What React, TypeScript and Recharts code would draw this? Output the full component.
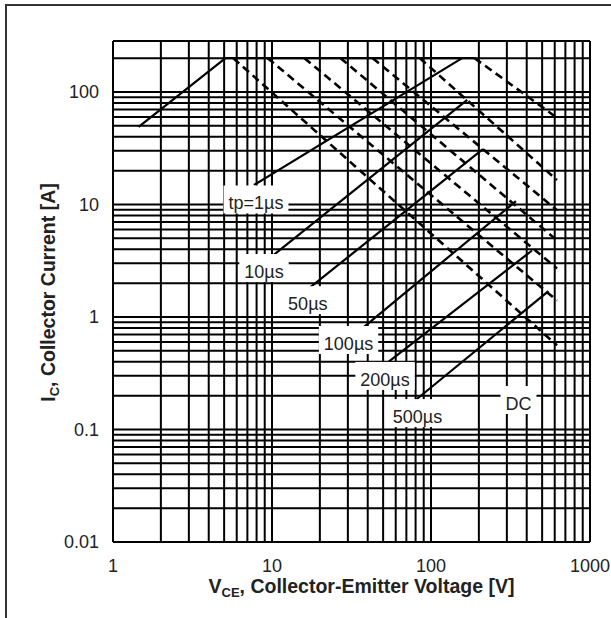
import React from 'react'
import { LineChart, Line, XAxis, YAxis, CartesianGrid, ReferenceLine, ReferenceDot } from 'recharts'

// log grid, every integer multiple inside each decade
const xGrid = [1, 2, 3, 4, 5, 6, 7, 8, 9, 10, 20, 30, 40, 50, 60, 70, 80, 90, 100, 200, 300, 400, 500, 600, 700, 800, 900, 1000]
const yGrid = [
  0.01, 0.02, 0.03, 0.04, 0.05, 0.06, 0.07, 0.08, 0.09,
  0.1, 0.2, 0.3, 0.4, 0.5, 0.6, 0.7, 0.8, 0.9,
  1, 2, 3, 4, 5, 6, 7, 8, 9,
  10, 20, 30, 40, 50, 60, 70, 80, 90,
  100, 200,
]
const xLabels = [1, 10, 100, 1000]
const yLabels = [0.01, 0.1, 1, 10, 100]
const Y_MAX = 284

// VCE(sat) limit + Ic pulse limit
const vceSat = [{ x: 1.45, y: 49 }, { x: 5.1, y: 200 }, { x: 188, y: 200 }]

// power limit lines (dashed)
const dc = [{ x: 5.7, y: 200 }, { x: 620, y: 0.56 }]
const p500 = [{ x: 9.4, y: 200 }, { x: 620, y: 1.4 }]
const p200 = [{ x: 16, y: 200 }, { x: 620, y: 2.7 }]
const p100 = [{ x: 27, y: 200 }, { x: 620, y: 4.8 }]
const p50 = [{ x: 43, y: 200 }, { x: 620, y: 8.9 }]
const p10 = [{ x: 85, y: 200 }, { x: 620, y: 16.5 }]
const p1 = [{ x: 188, y: 200 }, { x: 620, y: 59 }]

// leader lines from labels to curves
const lead1 = [{ x: 7.7, y: 14.9 }, { x: 157, y: 200 }]
const lead10 = [{ x: 9.7, y: 3.35 }, { x: 169, y: 85 }]
const lead50 = [{ x: 16.6, y: 1.74 }, { x: 212, y: 31 }]
const lead100 = [{ x: 34, y: 0.72 }, { x: 342, y: 10.7 }]
const lead200 = [{ x: 54, y: 0.4 }, { x: 432, y: 3.9 }]
const lead500 = [{ x: 76, y: 0.172 }, { x: 548, y: 1.7 }]

const curveLabels = [
  { text: 'tp=1µs', x: 7.93, y: 9.03 },
  { text: '10µs', x: 8.91, y: 2.22 },
  { text: '50µs', x: 16.8, y: 1.15 },
  { text: '100µs', x: 30.3, y: 0.509 },
  { text: '200µs', x: 51.4, y: 0.244 },
  { text: '500µs', x: 82.2, y: 0.114 },
  { text: 'DC', x: 355, y: 0.149 },
]

const FONT = '"Liberation Sans", Arial, sans-serif'
const LABEL_SIZE = 18

const charW: Record<string, number> = {
  t: 0.278, p: 0.556, '=': 0.584, 'µ': 0.576, s: 0.5, D: 0.722, C: 0.722,
}
const textWidth = (s: string) =>
  s.split('').reduce((w, c) => w + (charW[c] ?? 0.556), 0) * LABEL_SIZE

const LabelBox = ({ cx, cy, text }: any) => {
  if (cx == null || cy == null) return null
  const w = textWidth(text)
  return (
    <g>
      <rect x={cx - w / 2 - 5} y={cy - 24} width={w + 10} height={28} fill="#fff" />
      <text x={cx} y={cy} textAnchor="middle" fontSize={LABEL_SIZE} fontFamily={FONT} fill="#222">
        {text}
      </text>
    </g>
  )
}

const XTitle = ({ viewBox }: any) => {
  const { x, y, width } = viewBox
  return (
    <text x={x + width / 2 + 10} y={y + 51} textAnchor="middle" fontSize={19.5} fontWeight="bold" fontFamily={FONT} fill="#222">
      V<tspan fontSize={13} dy={4}>CE</tspan>
      <tspan dy={-4}>, Collector-Emitter Voltage [V]</tspan>
    </text>
  )
}

const YTitle = ({ viewBox }: any) => {
  const { y, height } = viewBox
  const cx = 55
  const cy = y + height / 2 + 1
  return (
    <text x={cx} y={cy} transform={`rotate(-90, ${cx}, ${cy})`} textAnchor="middle" fontSize={19.5} fontWeight="bold" fontFamily={FONT} fill="#222">
      I<tspan fontSize={13} dy={4}>C</tspan>
      <tspan dy={-4}>, Collector Current [A]</tspan>
    </text>
  )
}

const dashed = '8 5'

export default function App() {
  const solid = [vceSat, lead1, lead10, lead50, lead100, lead200, lead500]
  const dash = [dc, p500, p200, p100, p50, p10, p1]
  return (
    <div style={{ position: 'absolute', left: 0, top: 0, width: 611, height: 618, background: '#fff', overflow: 'hidden' }}>
      <div style={{ position: 'absolute', left: 5, top: 4, right: -10, bottom: -10, borderLeft: '2px solid #333', borderTop: '2px solid #333' }} />
      <div style={{ position: 'absolute', left: 0, top: 0 }}>
        <LineChart width={611} height={618} margin={{ top: 41, right: 21, bottom: 36, left: 13 }}>
          <CartesianGrid stroke="#000" strokeWidth={2} fill="none" />
          <XAxis
            dataKey="x"
            type="number"
            scale="log"
            domain={[1, 1000]}
            allowDataOverflow
            ticks={xGrid}
            interval={0}
            tickFormatter={(v: number) => (xLabels.includes(v) ? String(v) : '')}
            tickLine={false}
            tickSize={0}
            tickMargin={17}
            height={40}
            axisLine={{ stroke: '#000', strokeWidth: 2 }}
            tick={{ fill: '#222', fontSize: 18, fontFamily: FONT }}
            label={<XTitle />}
          />
          <YAxis
            dataKey="y"
            type="number"
            scale="log"
            domain={[0.01, Y_MAX]}
            allowDataOverflow
            ticks={yGrid}
            interval={0}
            tickFormatter={(v: number) => (yLabels.includes(v) ? String(v) : '')}
            tickLine={false}
            tickSize={0}
            tickMargin={14}
            width={100}
            axisLine={{ stroke: '#000', strokeWidth: 2 }}
            tick={{ fill: '#222', fontSize: 18, fontFamily: FONT }}
            label={<YTitle />}
          />
          <ReferenceLine y={Y_MAX} stroke="#000" strokeWidth={2} />
          <ReferenceLine x={1000} stroke="#000" strokeWidth={2} />
          {solid.map((d, i) => (
            <Line key={`s${i}`} data={d} dataKey="y" type="linear" stroke="#000" strokeWidth={2.2} dot={false} activeDot={false} isAnimationActive={false} />
          ))}
          {dash.map((d, i) => (
            <Line key={`d${i}`} data={d} dataKey="y" type="linear" stroke="#000" strokeWidth={2.6} strokeDasharray={dashed} dot={false} activeDot={false} isAnimationActive={false} />
          ))}
          {curveLabels.map((l) => (
            <ReferenceDot key={l.text} x={l.x} y={l.y} r={0} shape={(p: any) => <LabelBox {...p} text={l.text} />} />
          ))}
        </LineChart>
      </div>
    </div>
  )
}
